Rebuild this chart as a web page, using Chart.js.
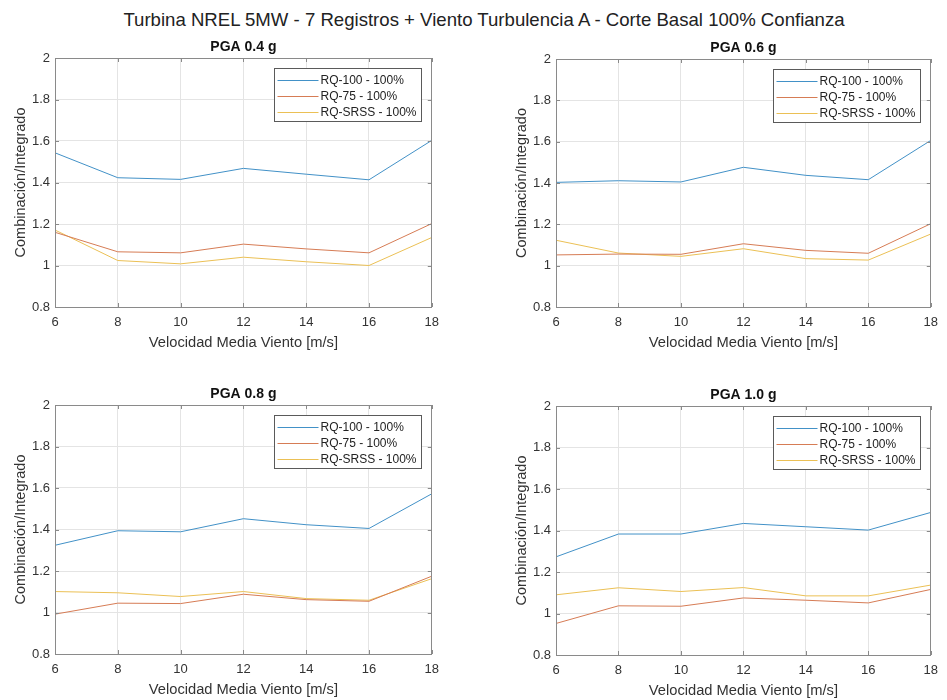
<!DOCTYPE html>
<html>
<head>
<meta charset="utf-8">
<script src="https://cdn.jsdelivr.net/npm/chart.js@4.4.1/dist/chart.umd.min.js"></script>
<style>
  body { margin: 0; background: #fff; width: 947px; height: 700px; overflow: hidden; position: relative;
         font-family: "Liberation Sans", Arial, sans-serif; }
  #title { position: absolute; left: 0; top: 9px; width: 968px; text-align: center; font-size: 18.6px; color: #222; }
  canvas { position: absolute; }
</style>
</head>
<body>
<div id="title">Turbina NREL 5MW - 7 Registros + Viento Turbulencia A - Corte Basal 100% Confianza</div>
<canvas id="c0"></canvas>
<canvas id="c1"></canvas>
<canvas id="c2"></canvas>
<canvas id="c3"></canvas>
<script>
// Wind speeds on the x axis, ratios
const windSpeeds = [6, 8, 10, 12, 14, 16, 18];
const seriesLabels = ['RQ-100 - 100%', 'RQ-75 - 100%', 'RQ-SRSS - 100%'];
const panelTitles = ['PGA 0.4 g', 'PGA 0.6 g', 'PGA 0.8 g', 'PGA 1.0 g'];
const yRange = [0.8, 2];
const yStep = 0.2;
const xRange = [6, 18];
const xStep = 2;

const rq100_04 = [1.543, 1.423, 1.415, 1.468, 1.44, 1.413, 1.603];
const rq75_04  = [1.16, 1.066, 1.061, 1.103, 1.08, 1.061, 1.202];
const srss_04  = [1.171, 1.024, 1.008, 1.04, 1.018, 1.0, 1.135];

const rq100_06 = [1.403, 1.411, 1.405, 1.476, 1.437, 1.416, 1.606];
const rq75_06  = [1.052, 1.056, 1.055, 1.106, 1.074, 1.06, 1.203];
const srss_06  = [1.123, 1.061, 1.045, 1.082, 1.034, 1.027, 1.153];

const rq100_08 = [1.324, 1.394, 1.389, 1.452, 1.423, 1.405, 1.572];
const rq75_08  = [0.992, 1.045, 1.043, 1.088, 1.062, 1.054, 1.175];
const srss_08  = [1.101, 1.095, 1.077, 1.101, 1.067, 1.059, 1.163];

const rq100_10 = [1.273, 1.383, 1.383, 1.434, 1.418, 1.402, 1.487];
const rq75_10  = [0.952, 1.037, 1.035, 1.075, 1.064, 1.051, 1.116];
const srss_10  = [1.09, 1.124, 1.106, 1.125, 1.085, 1.085, 1.137];

const panelSeries = [
  [rq100_04, rq75_04, srss_04],
  [rq100_06, rq75_06, srss_06],
  [rq100_08, rq75_08, srss_08],
  [rq100_10, rq75_10, srss_10],
];

const COLORS = ['#4291c7', '#d67c55', '#ebc055'];
const FONT = "'Liberation Sans', Arial, sans-serif";
Chart.defaults.font.family = FONT;

// plot areas in page pixels, matching the original subplot layout
const areas = [
  { l: 55,  t: 58,  r: 435, b: 307 },
  { l: 556, t: 59,  r: 934, b: 307 },
  { l: 55,  t: 405, r: 435, b: 654 },
  { l: 556, t: 406, r: 934, b: 655 },
];
const Y_AXIS_W = 55, X_AXIS_H = 46, PAD_TOP = 30, PAD_RIGHT = 12, PAD_BOTTOM = 1;

// axes box, inward ticks, panel title and boxed legend (MATLAB look)
const matlabAxes = {
  id: 'matlabAxes',
  afterDraw(chart, args, opts) {
    const { ctx, chartArea: a, scales } = chart;
    ctx.save();
    ctx.strokeStyle = '#8a8a8a';
    ctx.lineWidth = 1;
    ctx.strokeRect(Math.round(a.left) + 0.5, Math.round(a.top) + 0.5,
                   Math.round(a.right - a.left) - 1, Math.round(a.bottom - a.top));
    ctx.beginPath();
    scales.x.ticks.forEach(t => {
      const px = Math.round(scales.x.getPixelForValue(t.value)) + 0.5;
      ctx.moveTo(px, a.bottom); ctx.lineTo(px, a.bottom - 4);
      ctx.moveTo(px, a.top); ctx.lineTo(px, a.top + 4);
    });
    scales.y.ticks.forEach(t => {
      const py = Math.round(scales.y.getPixelForValue(t.value)) + 0.5;
      ctx.moveTo(a.left, py); ctx.lineTo(a.left + 4, py);
      ctx.moveTo(a.right, py); ctx.lineTo(a.right - 4, py);
    });
    ctx.stroke();

    // panel title
    ctx.fillStyle = '#111';
    ctx.font = 'bold 14px ' + FONT;
    ctx.textAlign = 'center';
    ctx.textBaseline = 'alphabetic';
    ctx.fillText(opts.title, (a.left + a.right) / 2, a.top - 7);

    // legend
    const w = 147, h = 53;
    const bx = Math.round(a.right - 11 - w) + 0.5, by = Math.round(a.top + 10) + 0.5;
    ctx.fillStyle = '#fff';
    ctx.fillRect(bx, by, w, h);
    ctx.strokeStyle = '#5a5a5a';
    ctx.strokeRect(bx, by, w, h);
    ctx.font = '12px ' + FONT;
    ctx.textAlign = 'left';
    ctx.textBaseline = 'middle';
    chart.data.datasets.forEach((ds, i) => {
      const yy = Math.round(by + 11 + i * 16) + 0.5;
      ctx.strokeStyle = COLORS[i];
      ctx.lineWidth = 1;
      ctx.beginPath();
      ctx.moveTo(bx + 3, yy); ctx.lineTo(bx + 44, yy);
      ctx.stroke();
      ctx.fillStyle = '#222';
      ctx.fillText(ds.label, bx + 46, yy);
    });
    ctx.restore();
  }
};

function fmtTick(v) {
  return String(Number(v.toFixed(1)));
}

areas.forEach((ar, idx) => {
  const canvas = document.getElementById('c' + idx);
  const x0 = ar.l - Y_AXIS_W, y0 = ar.t - PAD_TOP;
  canvas.width = ar.r - x0 + PAD_RIGHT;
  canvas.height = ar.b - y0 + X_AXIS_H + PAD_BOTTOM;
  canvas.style.left = x0 + 'px';
  canvas.style.top = y0 + 'px';

  const datasets = panelSeries[idx].map((vals, i) => ({
    label: seriesLabels[i],
    data: windSpeeds.map((x, k) => ({ x, y: vals[k] })),
    borderColor: COLORS[i],
    backgroundColor: COLORS[i],
    borderWidth: 1,
    pointRadius: 0,
    tension: 0,
    fill: false,
  }));

  new Chart(canvas, {
    type: 'line',
    data: { datasets },
    options: {
      responsive: false,
      animation: false,
      events: [],
      layout: { padding: { left: 0, top: PAD_TOP, right: PAD_RIGHT, bottom: PAD_BOTTOM } },
      scales: {
        x: {
          type: 'linear',
          min: xRange[0], max: xRange[1],
          afterFit: s => { s.height = X_AXIS_H; },
          ticks: { stepSize: xStep, padding: 8, color: '#333', font: { size: 13 } },
          grid: { color: '#e4e4e4', drawTicks: false },
          border: { display: false },
          title: { display: true, text: 'Velocidad Media Viento [m/s]', color: '#333',
                   font: { size: 14.7 }, padding: { top: 0, bottom: 1 } },
        },
        y: {
          min: yRange[0], max: yRange[1],
          afterFit: s => { s.width = Y_AXIS_W; },
          ticks: { stepSize: yStep, padding: 5, color: '#333', font: { size: 13 }, callback: fmtTick },
          grid: { color: '#e4e4e4', drawTicks: false },
          border: { display: false },
          title: { display: true, text: 'Combinación/Integrado', color: '#333',
                   font: { size: 14.5 }, padding: { top: 12, bottom: 0 } },
        },
      },
      plugins: {
        legend: { display: false },
        tooltip: { enabled: false },
        matlabAxes: { title: panelTitles[idx] },
      },
    },
    plugins: [matlabAxes],
  });
});
</script>
</body>
</html>
